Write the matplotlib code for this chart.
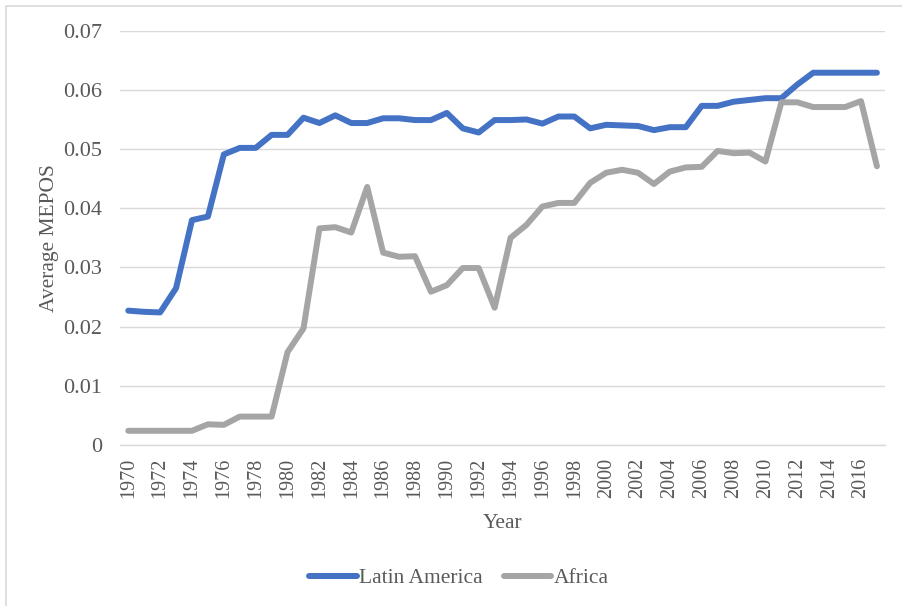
import matplotlib
matplotlib.use("Agg")
import matplotlib.pyplot as plt
from matplotlib.patches import Rectangle

years = list(range(1970, 2018))

latin_america = [
    0.0227, 0.0225, 0.0224, 0.0265, 0.0380, 0.0386, 0.0491, 0.0502, 0.0502, 0.0524,
    0.0524, 0.0553, 0.0544, 0.0557, 0.0544, 0.0544, 0.0552, 0.0552, 0.0549, 0.0549,
    0.0561, 0.0535, 0.0528, 0.0549, 0.0549, 0.0550, 0.0543, 0.0555, 0.0555, 0.0535,
    0.0541, 0.0540, 0.0539, 0.0532, 0.0537, 0.0537, 0.0573, 0.0573, 0.0580, 0.0583,
    0.0586, 0.0586, 0.0609, 0.0629, 0.0629, 0.0629, 0.0629, 0.0629,
]

africa = [
    0.0024, 0.0024, 0.0024, 0.0024, 0.0024, 0.0035, 0.0034, 0.0048, 0.0048, 0.0048,
    0.0157, 0.0197, 0.0366, 0.0368, 0.0359, 0.0436, 0.0325, 0.0318, 0.0319, 0.0259,
    0.0270, 0.0299, 0.0299, 0.0232, 0.0350, 0.0372, 0.0403, 0.0409, 0.0409, 0.0443,
    0.0460, 0.0465, 0.0460, 0.0441, 0.0462, 0.0469, 0.0470, 0.0497, 0.0493, 0.0494,
    0.0479, 0.0579, 0.0579, 0.0571, 0.0571, 0.0571, 0.0581, 0.0471,
]

y_ticks = [0, 0.01, 0.02, 0.03, 0.04, 0.05, 0.06, 0.07]
y_tick_labels = ["0", "0.01", "0.02", "0.03", "0.04", "0.05", "0.06", "0.07"]
x_ticks = list(range(1970, 2017, 2))

text_color = "#595959"
grid_color = "#D9D9D9"

plt.rcParams["font.family"] = ["Liberation Serif", "DejaVu Serif"]
plt.rcParams["font.size"] = 15.5

fig = plt.figure(figsize=(9.03, 6.06), dpi=100)
ax = fig.add_axes([120.3 / 903, 1 - 445 / 606, 764.6 / 903, 414.3 / 606])

# chart area border (only top and left edges are inside the picture)
fig.patches.append(Rectangle((6 / 903, -0.05), 1.2, 1 - 6 / 606 + 0.05,
                             transform=fig.transFigure, fill=False,
                             edgecolor=grid_color, linewidth=1.2))

ax.plot(years, latin_america, color="#4472C4", lw=4.3, solid_capstyle="round",
        solid_joinstyle="round", label="Latin America", zorder=3)
ax.plot(years, africa, color="#A5A5A5", lw=4.3, solid_capstyle="round",
        solid_joinstyle="round", label="Africa", zorder=3)

ax.set_xlim(1969.5, 2017.5)
ax.set_ylim(0, 0.07)
ax.set_yticks(y_ticks)
ax.set_yticklabels(y_tick_labels, fontsize=16)
ax.set_xticks(x_ticks)
ax.set_xticklabels([str(y) for y in x_ticks], rotation=90, fontsize=14.5)

ax.grid(axis="y", color=grid_color, lw=1.0)
ax.axhline(0, color=grid_color, lw=1.0, clip_on=False, zorder=1)
ax.set_axisbelow(True)
for s in ax.spines.values():
    s.set_visible(False)
ax.tick_params(length=0, colors=text_color)
ax.tick_params(axis="y", pad=13.2)
ax.tick_params(axis="x", pad=9)

ax.set_ylabel("Average MEPOS", color=text_color, va="center")
ax.yaxis.set_label_coords((50 - 120.3) / 764.6, 0.5)
ax.set_xlabel("Year", color=text_color, va="center")
ax.xaxis.set_label_coords(0.5, (445 - 523) / 414.3)

fig.legend(loc="center", bbox_to_anchor=(459 / 903, 1 - 578 / 606), ncol=2,
           frameon=False, handlelength=2.2, handletextpad=0.1, columnspacing=1.0,
           labelcolor=text_color)

fig.savefig("out.png", dpi=100)
